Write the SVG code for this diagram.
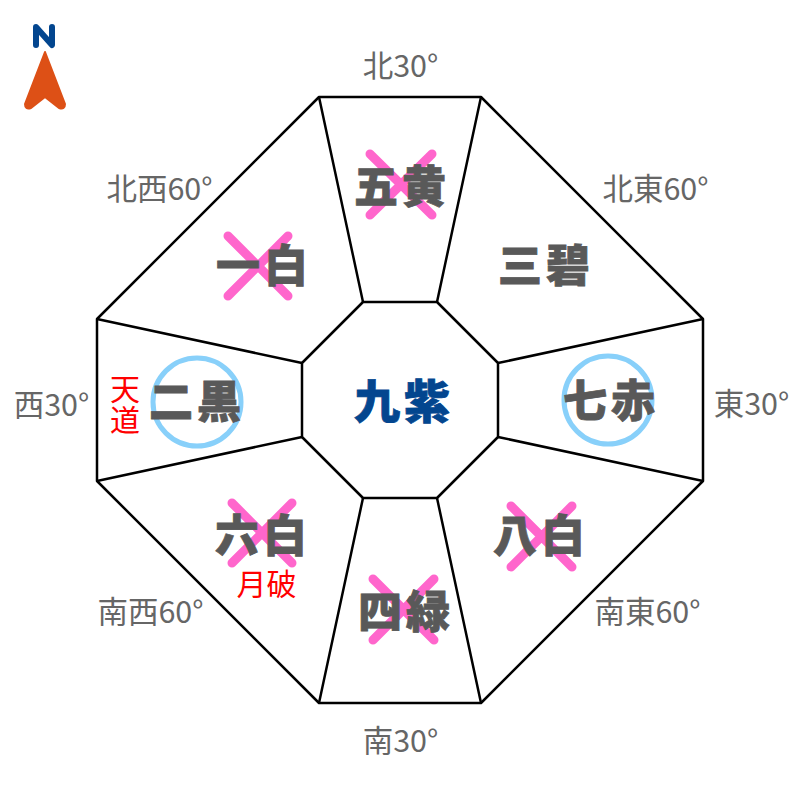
<svg xmlns="http://www.w3.org/2000/svg" width="800" height="800" viewBox="0 0 800 800">
<style>
.c{fill:none;stroke:#000;stroke-width:2.5;stroke-linejoin:round}
.s{font-family:"Noto Sans CJK JP","Noto Sans",sans-serif;font-weight:900;font-size:44px;fill:#595959;stroke:#595959;stroke-width:.8;text-anchor:middle;letter-spacing:4px}
.l{font-family:"Noto Sans CJK JP","Noto Sans",sans-serif;font-size:30.5px;fill:#666;text-anchor:middle}
.r{font-family:"Noto Sans CJK JP","Noto Sans",sans-serif;font-size:30px;fill:#f00;text-anchor:middle}
.x{stroke:#ff66cc;stroke-width:9;stroke-linecap:round;fill:none}
.o{stroke:#88d0fa;stroke-width:5;fill:none}
</style>
<rect width="800" height="800" fill="#fff"/>
<g id="compass">
<path d="M45 52 L65 104 Q65 110 59 108 L45 97 L31 108 Q25 110 25 104 Z" fill="#dd5016" stroke="#dd5016" stroke-width="2" stroke-linejoin="round"/>
<path d="M36 45V27L52 45V27" fill="none" stroke="#03468f" stroke-width="6" stroke-linejoin="round" stroke-linecap="round"/>
</g>
<g id="connectors">
<polygon class="c" points="319,97 481,97 703,319 703,481 481,703 319,703 97,481 97,319"/>
<polygon class="c" points="363,302 437,302 498,363 498,437 437,498 363,498 302,437 302,363"/>
<path class="c" d="M319 97L363 302M481 97L437 302M703 319L498 363M703 481L498 437M481 703L437 498M319 703L363 498M97 481L302 437M97 319L302 363"/>
</g>
<g id="n-north"><path class="x" d="M370 154L432 215M432 154L370 215"/><text class="s" x="402" y="203">五黄</text><text class="l" x="400.500" y="77">北30°</text></g>
<g id="n-northeast"><text class="s" x="546" y="282">三碧</text><text class="l" x="655.500" y="200">北東60°</text></g>
<g id="n-east"><circle class="o" cx="608" cy="400" r="44"/><text class="s" x="611" y="417">七赤</text><text class="l" x="751.500" y="415">東30°</text></g>
<g id="n-southeast"><path class="x" d="M511 506L572 567M572 506L511 567"/><text class="s" x="541" y="552">八白</text><text class="l" x="647.500" y="623">南東60°</text></g>
<g id="n-south"><path class="x" d="M373 579L434 640M434 579L373 640"/><text class="s" x="406" y="628">四緑</text><text class="l" x="400.500" y="752">南30°</text></g>
<g id="n-southwest"><path class="x" d="M232 503L292 563M292 503L232 563"/><text class="s" x="263" y="552">六白</text><text class="r" x="266.500" y="595">月破</text><text class="l" x="150.500" y="623">南西60°</text></g>
<g id="n-west"><circle class="o" cx="197" cy="402" r="44"/><text class="s" x="197" y="418">二黒</text><text class="r"><tspan x="125" y="400">天</tspan><tspan x="125" y="431">道</tspan></text><text class="l" x="51.500" y="416">西30°</text></g>
<g id="n-northwest"><path class="x" d="M228 236L288 296M288 236L228 296"/><text class="s" x="264" y="282">一白</text><text class="l" x="159.500" y="200">北西60°</text></g>
<g id="n-center"><text class="s" x="404" y="418" style="fill:#03468f;stroke:#03468f;font-size:46px">九紫</text></g>
</svg>
